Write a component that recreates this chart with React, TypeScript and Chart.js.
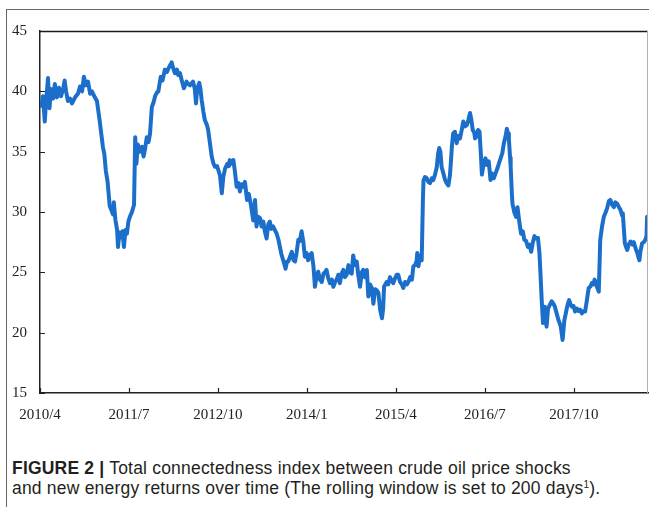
import React, { useRef, useEffect } from 'react';
import { Chart, registerables } from 'chart.js';
import type { Plugin } from 'chart.js';

Chart.register(...registerables);

// months elapsed since 2010/4
const months = [
  0, 0.25, 0.5, 0.8, 1.0, 1.35, 1.6, 1.85, 2.2, 2.5, 2.85, 3.2, 3.55, 3.9, 4.15, 4.4, 4.7, 5.05, 5.4, 5.9,
  6.4, 6.75, 7.1, 7.4, 7.75, 8.1, 8.45, 8.75, 9.25, 9.6, 10.05, 10.25, 10.6, 10.85, 11.1, 11.4, 11.75, 12.0, 12.3, 12.45,
  12.7, 13.0, 13.15, 13.4, 13.65, 13.9, 14.15, 14.4, 14.65, 14.9, 15.15, 15.5, 15.85, 16.05, 16.25, 16.5, 16.85, 17.2, 17.45, 17.7,
  18.0, 18.3, 18.55, 18.85, 19.15, 19.4, 19.7, 19.95, 20.35, 20.65, 21.05, 21.4, 21.75, 22.2, 22.4, 22.75, 23.1, 23.3, 23.6, 23.9,
  24.25, 24.7, 25.0, 25.3, 25.6, 25.8, 26.1, 26.3, 26.5, 26.85, 27.05, 27.25, 27.55, 27.8, 28.15, 28.35, 28.65, 28.95, 29.25, 29.5,
  29.85, 30.05, 30.35, 30.65, 30.9, 31.2, 31.6, 31.85, 32.0, 32.35, 32.6, 32.85, 33.15, 33.45, 33.7, 33.95, 34.25, 34.55, 34.9, 35.2,
  35.55, 35.95, 36.25, 36.5, 36.8, 37.1, 37.35, 37.65, 37.9, 38.2, 38.5, 38.75, 39.0, 39.3, 39.6, 39.9, 40.2, 40.45, 40.7, 41.0,
  41.4, 41.65, 41.85, 42.15, 42.45, 42.75, 43.0, 43.25, 43.55, 43.8, 44.1, 44.4, 44.65, 44.95, 45.2, 45.5, 45.8, 46.1, 46.35, 46.6,
  46.9, 47.2, 47.5, 47.8, 48.05, 48.3, 48.6, 48.9, 49.2, 49.45, 49.75, 50.0, 50.3, 50.55, 50.85, 51.15, 51.4, 51.7, 52.0, 52.25,
  52.55, 52.8, 53.1, 53.4, 53.65, 53.95, 54.25, 54.5, 54.8, 55.1, 55.35, 55.65, 55.95, 56.2, 56.5, 56.8, 57.05, 57.35, 57.65, 57.85,
  58.0, 58.45, 58.7, 59.0, 59.3, 59.55, 59.85, 60.15, 60.4, 60.7, 61.0, 61.25, 61.55, 61.85, 62.1, 62.4, 62.7, 62.95, 63.25, 63.5,
  63.6, 63.8, 64.05, 64.35, 64.55, 64.65, 64.9, 65.2, 65.45, 65.75, 66.05, 66.3, 66.6, 66.9, 67.1, 67.3, 67.5, 67.7, 68.0, 68.3,
  68.55, 68.85, 69.1, 69.25, 69.45, 69.65, 69.95, 70.25, 70.5, 70.8, 71.1, 71.35, 71.65, 71.95, 72.2, 72.5, 72.7, 72.95, 73.2, 73.35,
  73.65, 73.85, 74.1, 74.3, 74.5, 74.8, 75.1, 75.35, 75.65, 75.95, 76.2, 76.5, 76.8, 77.1, 77.35, 77.65, 77.95, 78.2, 78.5, 78.7,
  78.9, 79.05, 79.25, 79.35, 79.55, 79.65, 79.95, 80.25, 80.5, 80.8, 81.1, 81.4, 81.65, 81.95, 82.25, 82.5, 82.8, 83.05, 83.35, 83.65,
  83.95, 84.2, 84.4, 84.6, 84.8, 85.1, 85.4, 85.65, 85.95, 86.25, 86.55, 86.8, 87.1, 87.4, 87.6, 87.8, 88.1, 88.4, 88.6, 88.8,
  89.0, 89.2, 89.5, 89.65, 89.95, 90.2, 90.5, 90.8, 91.05, 91.35, 91.65, 91.9, 92.2, 92.5, 92.75, 93.05, 93.3, 93.5, 93.7, 93.9,
  94.2, 94.45, 94.75, 95.05, 95.3, 95.6, 95.9, 96.15, 96.45, 96.75, 97.0, 97.3, 97.6, 97.85, 98.15, 98.25, 98.6, 98.8, 99.0, 99.25,
  99.55, 99.85, 100.1, 100.4, 100.7, 100.85, 101.05, 101.25, 101.5, 101.8, 102.05, 102.25, 102.35, 102.5,
];

const tci = [
  39.2, 38.8, 39.6, 37.5, 39.0, 41.1, 38.6, 40.2, 39.4, 40.6, 39.5, 40.3, 39.6, 40.2, 40.9, 40.0, 39.2, 39.4, 39.0, 39.5,
  39.8, 40.4, 40.0, 41.2, 40.5, 40.8, 39.8, 40.0, 39.5, 39.2, 37.6, 36.8, 35.4, 34.8, 33.4, 32.5, 30.5, 30.2, 29.8, 30.8,
  29.4, 28.5, 27.1, 28.3, 27.9, 28.4, 27.1, 28.5, 28.2, 29.2, 29.6, 30.0, 30.6, 36.2, 34.0, 35.6, 35.0, 35.4, 34.6, 35.2,
  36.2, 35.8, 36.5, 38.7, 39.1, 39.6, 39.9, 40.0, 41.2, 40.9, 41.8, 41.6, 42.0, 42.4, 42.0, 41.5, 41.8, 41.35, 41.5, 40.9,
  40.25, 40.8, 40.6, 40.5, 40.7, 40.8, 40.2, 39.0, 40.2, 40.7, 40.2, 39.3, 38.3, 37.6, 37.2, 36.8, 35.7, 34.6, 34.0, 33.75,
  33.8, 33.5, 33.0, 31.55, 32.9, 33.6, 34.0, 33.8, 34.3, 34.0, 34.3, 33.4, 32.1, 32.4, 31.7, 32.3, 32.1, 32.5, 31.0, 31.5,
  30.6, 29.3, 31.0, 28.8, 29.6, 29.5, 28.8, 29.2, 28.4, 27.8, 29.0, 29.2, 28.6, 28.8, 28.5, 28.2, 27.7, 27.1, 26.5, 26.0,
  25.3, 25.9, 25.9, 26.3, 26.7, 26.0, 25.9, 26.6, 27.7, 27.6, 28.4, 27.5, 26.3, 26.6, 26.0, 26.4, 26.6, 25.5, 23.8, 24.6,
  25.05, 24.4, 24.2, 24.9, 25.0, 25.2, 24.5, 24.1, 24.4, 23.8, 24.2, 24.4, 24.8, 24.1, 24.9, 25.2, 24.6, 24.8, 25.6, 25.0,
  24.9, 26.4, 25.6, 25.9, 24.8, 23.8, 25.0, 25.2, 24.6, 25.2, 23.0, 24.0, 23.7, 22.4, 23.6, 23.5, 23.3, 21.9, 21.2, 22.0,
  23.8, 24.2, 24.0, 24.6, 24.3, 24.1, 24.5, 24.8, 24.8, 24.2, 24.0, 23.7, 24.2, 24.0, 24.2, 24.6, 24.4, 25.5, 25.6, 26.0,
  26.6, 25.5, 26.4, 26.0, 31.0, 32.6, 32.9, 32.8, 32.5, 32.4, 32.8, 32.65, 33.1, 33.75, 34.8, 35.3, 35.0, 33.75, 33.2, 32.65,
  32.4, 32.2, 33.0, 34.0, 35.5, 36.5, 36.65, 35.7, 36.3, 36.1, 36.8, 37.5, 37.1, 37.2, 37.6, 38.2, 37.7, 36.8, 36.6, 36.1,
  36.3, 36.8, 36.65, 35.0, 33.1, 34.0, 34.45, 33.9, 34.2, 32.65, 33.2, 32.8, 33.2, 33.6, 34.0, 34.45, 34.9, 35.7, 36.3, 36.9,
  36.5, 36.0, 34.5, 33.75, 31.5, 30.7, 30.0, 29.6, 30.4, 29.2, 28.2, 28.4, 27.7, 27.6, 27.1, 27.3, 26.7, 27.4, 28.0, 27.8,
  27.85, 26.6, 24.6, 22.5, 20.8, 22.15, 20.5, 22.0, 22.3, 22.6, 22.4, 22.15, 21.6, 21.05, 20.8, 20.5, 19.4, 21.05, 21.5, 22.0,
  22.4, 22.7, 22.3, 22.15, 22.2, 21.75, 22.0, 21.8, 21.9, 21.6, 21.8, 21.75, 22.7, 23.7, 23.8, 24.1, 24.0, 24.4, 24.1, 23.8,
  23.4, 27.7, 28.8, 29.6, 29.9, 30.3, 30.9, 31.0, 30.6, 30.4, 30.8, 30.7, 30.4, 30.2, 29.7, 29.9, 27.4, 27.1, 26.85, 27.3,
  27.55, 27.3, 27.5, 27.0, 26.6, 26.3, 26.0, 26.8, 27.4, 27.5, 27.7, 28.0, 29.6, 28.3,
];

const xTickLabels = ['2010/4', '2011/7', '2012/10', '2014/1', '2015/4', '2016/7', '2017/10'];
const yTicks = [15, 20, 25, 30, 35, 40, 45];

const lineColor = '#1b6fca';
const tickFont = { family: '"Liberation Serif", "Times New Roman", serif', size: 15 };

// inside tick marks plus the top and right frame of the plot
const framePlugin: Plugin<'line'> = {
  id: 'frame',
  afterDraw(chart) {
    const { ctx, chartArea: a, scales } = chart;
    ctx.save();
    ctx.strokeStyle = '#222';
    ctx.lineWidth = 1.2;
    ctx.beginPath();
    scales.y.ticks.forEach(t => {
      const y = Math.round(scales.y.getPixelForValue(t.value)) + 0.5;
      ctx.moveTo(a.left, y);
      ctx.lineTo(a.left + 5, y);
    });
    scales.x.ticks.forEach(t => {
      const x = Math.round(scales.x.getPixelForValue(t.value)) + 0.5;
      ctx.moveTo(x, a.bottom);
      ctx.lineTo(x, a.bottom - 5);
    });
    ctx.stroke();
    ctx.beginPath();
    ctx.lineWidth = 1.5;
    ctx.strokeStyle = '#1a1a1a';
    ctx.moveTo(a.left, a.top + 0.5);
    ctx.lineTo(a.right, a.top + 0.5);
    ctx.stroke();
    ctx.beginPath();
    ctx.lineWidth = 1;
    ctx.strokeStyle = '#b0b0b0';
    ctx.moveTo(a.right - 0.5, a.top);
    ctx.lineTo(a.right - 0.5, a.bottom);
    ctx.stroke();
    ctx.restore();
  },
};

const TciChart: React.FC = () => {
  const canvasRef = useRef<HTMLCanvasElement>(null);

  useEffect(() => {
    if (!canvasRef.current) return;
    const chart = new Chart(canvasRef.current, {
      type: 'line',
      data: {
        datasets: [
          {
            data: months.map((m, i) => ({ x: m, y: tci[i] })),
            borderColor: lineColor,
            borderWidth: 4,
            pointRadius: 0,
            tension: 0,
            borderJoinStyle: 'round',
          },
        ],
      },
      options: {
        animation: false,
        responsive: false,
        devicePixelRatio: 1,
        layout: { padding: { top: 31, right: 1, left: 0, bottom: 0 } },
        plugins: { legend: { display: false }, tooltip: { enabled: false }, title: { display: false } },
        scales: {
          x: {
            type: 'linear',
            min: 0,
            max: 102.5,
            grid: { display: false, drawTicks: false },
            border: { display: true, color: '#222', width: 1.5 },
            afterFit: s => { s.height = 37; },
            ticks: {
              stepSize: 15,
              includeBounds: false,
              padding: 13,
              maxRotation: 0,
              autoSkip: false,
              color: '#222',
              font: tickFont,
              callback: v => xTickLabels[Math.round(Number(v) / 15)] ?? '',
            },
          },
          y: {
            min: 15,
            max: 45,
            grid: { display: false, drawTicks: false },
            border: { display: true, color: '#222', width: 1.5 },
            afterFit: s => { s.width = 40; },
            afterBuildTicks: s => { s.ticks = yTicks.map(v => ({ value: v })); },
            ticks: {
              padding: 13,
              color: '#222',
              font: tickFont,
            },
          },
        },
      },
      plugins: [framePlugin],
    });
    return () => chart.destroy();
  }, []);

  return (
    <canvas
      ref={canvasRef}
      width={649}
      height={430}
      style={{ position: 'absolute', left: 0, top: 0, width: 649, height: 430 }}
    />
  );
};

export default function App() {
  useEffect(() => {
    document.body.style.margin = '0';
  }, []);

  const caption: React.CSSProperties = {
    position: 'absolute',
    left: 12,
    whiteSpace: 'nowrap',
    fontFamily: '"Liberation Sans", Arial, sans-serif',
    fontSize: 17.5,
    letterSpacing: '0.2px',
    lineHeight: '19px',
    color: '#231f20',
  };

  return (
    <div style={{ position: 'relative', width: 649, height: 507, overflow: 'hidden', background: '#fff' }}>
      <div style={{ position: 'absolute', left: 6, top: 9, width: 643, height: 1, background: '#666' }} />
      <div style={{ position: 'absolute', left: 6, top: 9, width: 1, height: 498, background: '#666' }} />
      <TciChart />
      <div style={{ ...caption, top: 459 }}>
        <b>FIGURE 2 |</b> Total connectedness index between crude oil price shocks
      </div>
      <div style={{ ...caption, top: 479 }}>
        and new energy returns over time (The rolling window is set to 200 days
        <sup style={{ fontSize: 10, verticalAlign: 'top', lineHeight: '12px' }}>1</sup>).
      </div>
    </div>
  );
}
